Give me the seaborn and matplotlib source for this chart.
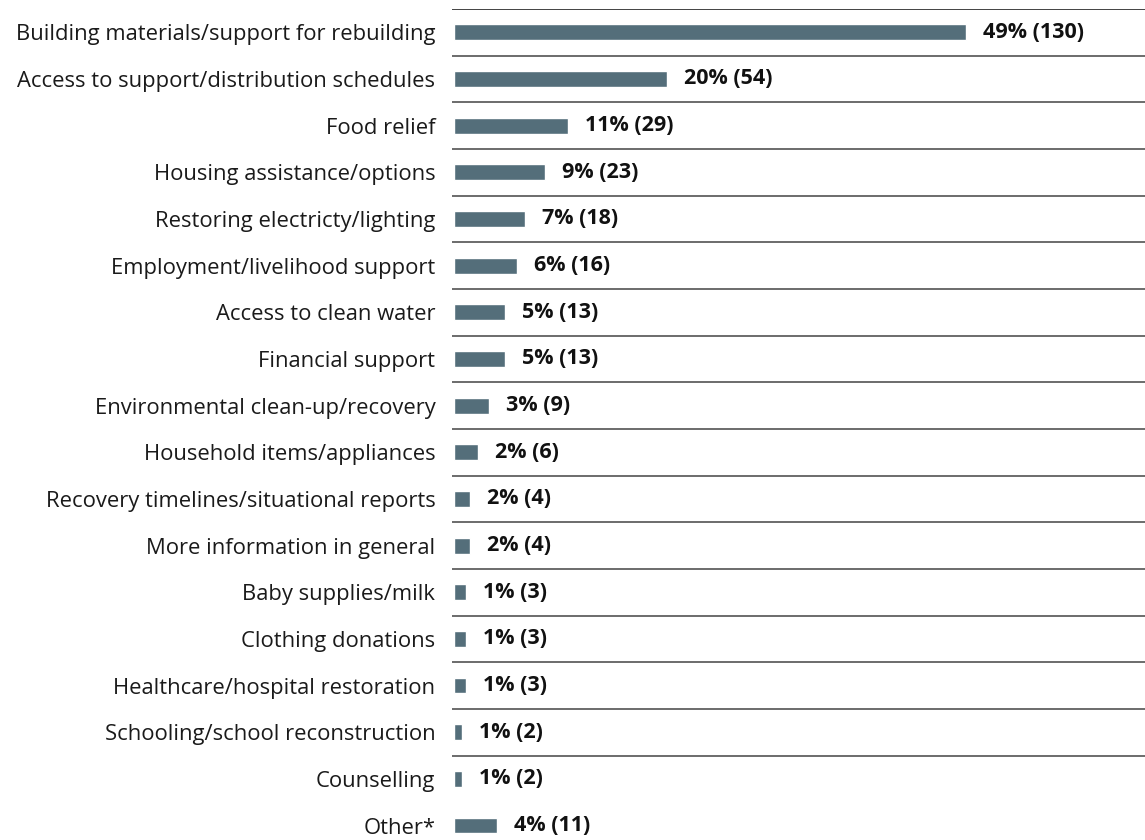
import numpy as np
import pandas as pd
import matplotlib
matplotlib.use("Agg")
import matplotlib.pyplot as plt
import seaborn as sns

# Du lieu
categories = [
    "Building materials/support for rebuilding",
    "Access to support/distribution schedules",
    "Food relief",
    "Housing assistance/options",
    "Restoring electricty/lighting",
    "Employment/livelihood support",
    "Access to clean water",
    "Financial support",
    "Environmental clean-up/recovery",
    "Household items/appliances",
    "Recovery timelines/situational reports",
    "More information in general",
    "Baby supplies/milk",
    "Clothing donations",
    "Healthcare/hospital restoration",
    "Schooling/school reconstruction",
    "Counselling",
    "Other*",
]
counts = [130, 54, 29, 23, 18, 16, 13, 13, 9, 6, 4, 4, 3, 3, 3, 2, 2, 11]
percents = [49, 20, 11, 9, 7, 6, 5, 5, 3, 2, 2, 2, 1, 1, 1, 1, 1, 4]

df = pd.DataFrame({"category": categories, "count": counts, "pct": percents})

sns.set_theme(style="white")
plt.rcParams["font.family"] = ["Open Sans", "DejaVu Sans"]

fig = plt.figure(figsize=(11.45, 8.4), dpi=100)
ax = fig.add_axes([452 / 1145, 0.0, 1 - 452 / 1145, 1 - 9 / 840])

sns.barplot(data=df, y="category", x="count", orient="h", color="#546E7A",
            width=0.34, saturation=1, ax=ax)

ax.set_ylim(17.31, -0.5)
ax.set_xlim(-0.5, 175.4)

# duong ke ngang giua cac hang
for i in range(len(categories) - 1):
    ax.axhline(i - 0.5, color="#111111" if i == 0 else "#444444", lw=1.1, zorder=0)

# nhan gia tri
for i, (c, p) in enumerate(zip(counts, percents)):
    ax.text(c + 4.3, i, f"{p}% ({c})", va="center", ha="left",
            fontsize=15.5, fontweight="bold", color="#111111")

ax.set_xlabel("")
ax.set_ylabel("")
ax.set_xticks([])
ax.tick_params(axis="y", length=0, pad=12, labelsize=15.8, labelcolor="#1a1a1a")
for s in ax.spines.values():
    s.set_visible(False)

fig.savefig("out.png", dpi=100)
